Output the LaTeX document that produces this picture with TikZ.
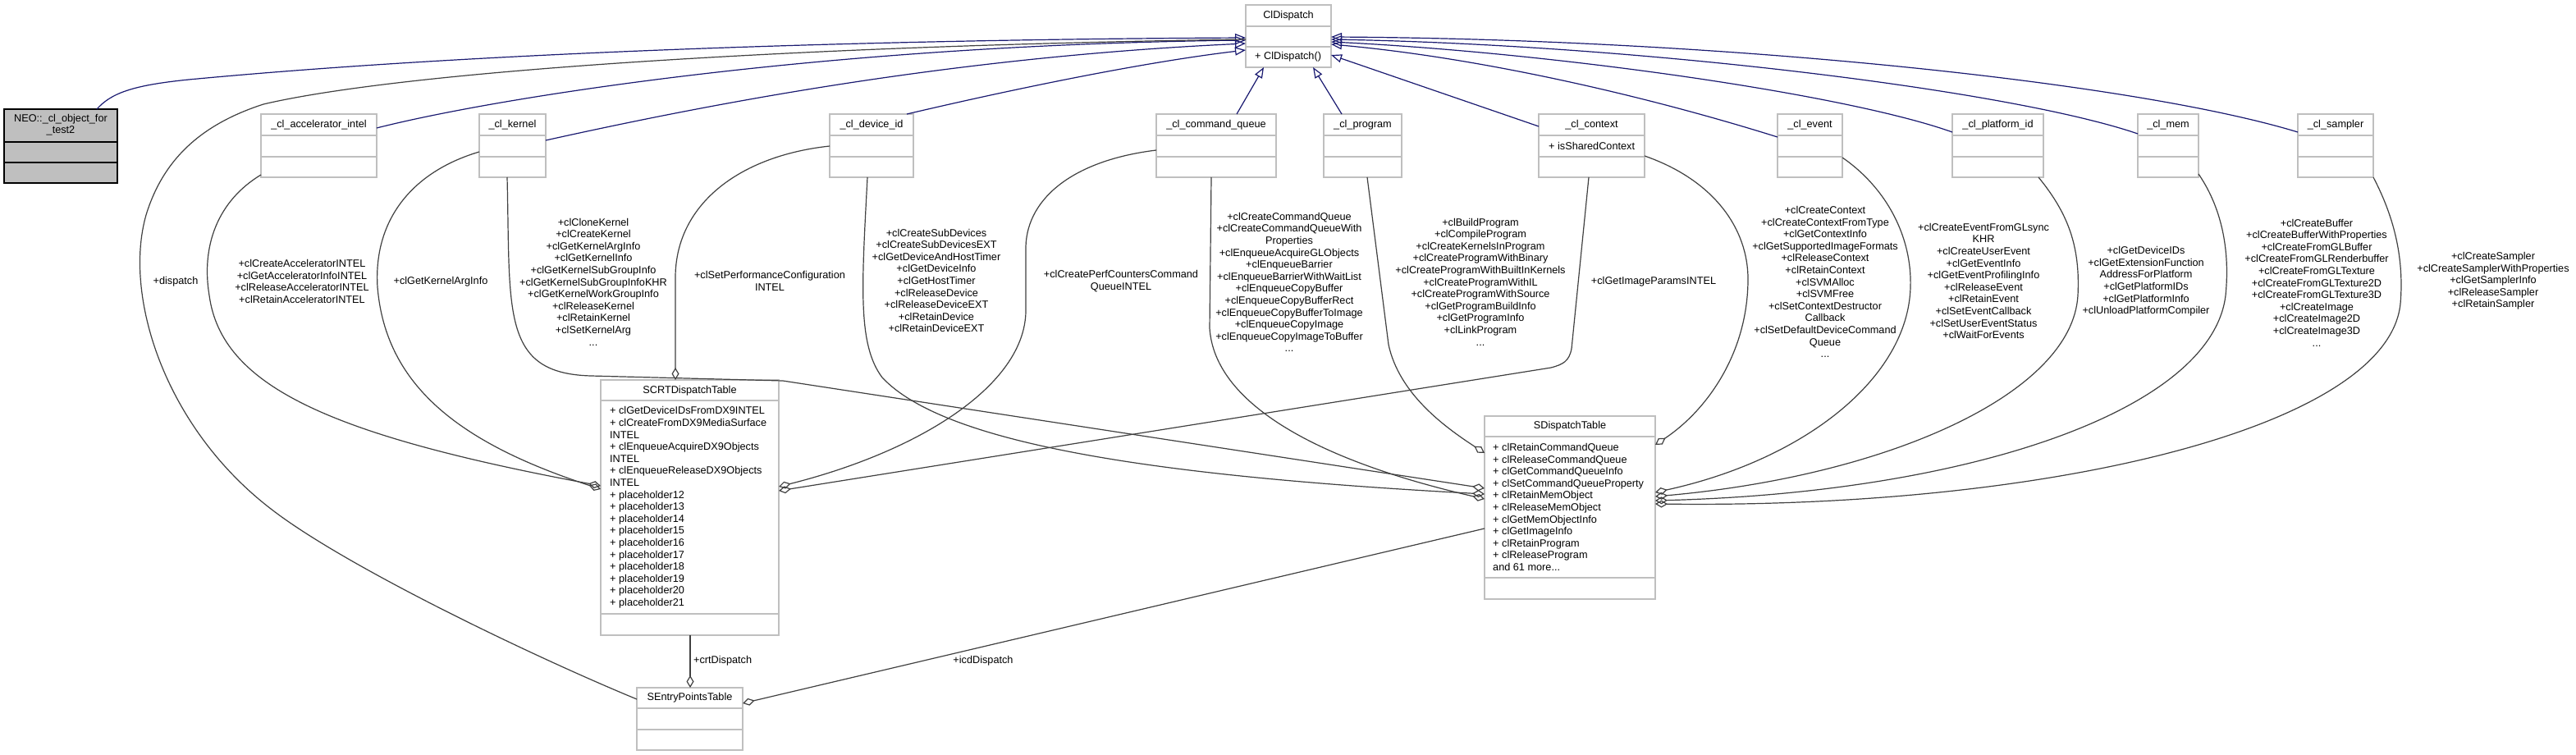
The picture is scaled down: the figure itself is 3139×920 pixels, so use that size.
\documentclass[tikz,border=0pt]{standalone}
\usepackage{fontspec}
\setmainfont{Liberation Sans}
\usetikzlibrary{arrows.meta,calc}
\definecolor{navyc}{HTML}{191970}
\definecolor{edgec}{HTML}{404040}
\definecolor{boxc}{HTML}{BFBFBF}
\definecolor{neofill}{HTML}{BFBFBF}
\newcommand\fs{\fontsize{12.7}{14.6}\selectfont}
% #1 name, #2 x, #3 y, #4 w, #5 h, #6 first line, #7 second line, #8 style
\newcommand\umlcls[8]{%
  \node[cls,#8,minimum width=#4pt,minimum height=#5pt] (#1) at (#2,#3) {};
  \draw[cmp,#8] ($(#1.north west)+(0,#6)$) -- ($(#1.north east)+(0,#6)$);
  \draw[cmp,#8] ($(#1.north west)+(0,#7)$) -- ($(#1.north east)+(0,#7)$);
}
\begin{document}
\begin{tikzpicture}[x=1pt,y=-1pt,
  cls/.style={draw=boxc,line width=1.4pt,fill=white,inner sep=0pt,outer sep=0pt,anchor=north west},
  cmp/.style={draw=boxc,line width=1.4pt},
  neostyle/.style={draw=black,fill=neofill},
  txt/.style={font=\fs,inner sep=0pt,align=center},
  ltxt/.style={font=\fs,inner sep=0pt,align=left,anchor=west},
  inh/.style={draw=navyc,line width=1.2pt,-{Triangle[open,length=13pt,width=10pt]}},
  use/.style={draw=edgec,line width=1.2pt,-{Diamond[open,length=15pt,width=9pt]}},
  plain/.style={draw=edgec,line width=1.2pt}]
\useasboundingbox (0,0) rectangle (3139,920);
\fill[white] (0,0) rectangle (3139,920);

% ---------- classes ----------
\umlcls{neo}{5}{133}{138}{90}{40}{65}{neostyle}
\umlcls{cld}{1518}{6}{104}{76}{26}{51}{}
\umlcls{acc}{318}{139}{141}{77}{26}{52}{}
\umlcls{ker}{584}{139}{81}{77}{26}{52}{}
\umlcls{dev}{1011}{139}{102}{77}{26}{52}{}
\umlcls{cq}{1409}{139}{146}{77}{26}{52}{}
\umlcls{prog}{1613}{139}{95}{77}{26}{52}{}
\umlcls{ctx}{1875}{139}{129}{77}{26}{52}{}
\umlcls{evt}{2166}{139}{79}{77}{26}{52}{}
\umlcls{plat}{2379}{139}{111}{77}{26}{52}{}
\umlcls{mem}{2605}{139}{74}{77}{26}{52}{}
\umlcls{samp}{2800}{139}{92}{77}{26}{52}{}
\umlcls{scrt}{732}{463}{217}{311}{25}{285}{}
\umlcls{sdt}{1809}{507}{208}{223}{25}{197}{}
\umlcls{sep}{776}{838}{129}{76}{25}{51}{}

% ---------- class texts ----------
\node[txt] (neot) at (74,152) {NEO::\_cl\_object\_for\\\_test2};
\node[txt] (cldt) at (1570,19) {ClDispatch};
\node[ltxt] (cldm) at (1529,69) {+ ClDispatch()};
\node[txt] (acct) at ($(acc.north)+(0,13)$) {\_cl\_accelerator\_intel};
\node[txt] (kert) at ($(ker.north)+(0,13)$) {\_cl\_kernel};
\node[txt] (devt) at ($(dev.north)+(0,13)$) {\_cl\_device\_id};
\node[txt] (cqt) at ($(cq.north)+(0,13)$) {\_cl\_command\_queue};
\node[txt] (progt) at ($(prog.north)+(0,13)$) {\_cl\_program};
\node[txt] (ctxt) at ($(ctx.north)+(0,13)$) {\_cl\_context};
\node[ltxt] (ctxa) at (1887,178) {+ isSharedContext};
\node[txt] (evtt) at ($(evt.north)+(0,13)$) {\_cl\_event};
\node[txt] (platt) at ($(plat.north)+(0,13)$) {\_cl\_platform\_id};
\node[txt] (memt) at ($(mem.north)+(0,13)$) {\_cl\_mem};
\node[txt] (sampt) at ($(samp.north)+(0,13)$) {\_cl\_sampler};
\node[txt] (scrtt) at ($(scrt.north)+(0,13)$) {SCRTDispatchTable};
\node[ltxt] (scrta) at (743,618.5) {+ clGetDeviceIDsFromDX9INTEL\\+ clCreateFromDX9MediaSurface\\INTEL\\+ clEnqueueAcquireDX9Objects\\INTEL\\+ clEnqueueReleaseDX9Objects\\INTEL\\+ placeholder12\\+ placeholder13\\+ placeholder14\\+ placeholder15\\+ placeholder16\\+ placeholder17\\+ placeholder18\\+ placeholder19\\+ placeholder20\\+ placeholder21};
\node[txt] (sdtt) at ($(sdt.north)+(0,12.5)$) {SDispatchTable};
\node[ltxt] (sdta) at (1819,618) {+ clRetainCommandQueue\\+ clReleaseCommandQueue\\+ clGetCommandQueueInfo\\+ clSetCommandQueueProperty\\+ clRetainMemObject\\+ clReleaseMemObject\\+ clGetMemObjectInfo\\+ clGetImageInfo\\+ clRetainProgram\\+ clReleaseProgram\\and 61 more...};
\node[txt] (sept) at ($(sep.north)+(0,12.5)$) {SEntryPointsTable};

% ---------- inheritance ----------
\draw[inh] ($(neo.north west)+(113,0)$) .. controls (135,114) and (160,104) .. (230,97)
   .. controls (600,62) and (1100,48) .. ($(cld.north west)+(0,40)$);
\draw[inh] ($(acc.north east)+(0,17)$) .. controls (600,120) and (1000,55) .. ($(cld.north west)+(0,43)$);
\draw[inh] ($(ker.north east)+(0,32)$) .. controls (850,130) and (1150,70) .. ($(cld.north west)+(0,47)$);
\draw[inh] ($(dev.north east)+(-8,0)$) .. controls (1250,105) and (1400,75) .. ($(cld.north west)+(0,55)$);
\draw[inh] ($(cq.north west)+(98,0)$) -- ($(cld.south west)+(22,0)$);
\draw[inh] ($(prog.north west)+(22,0)$) -- ($(cld.south west)+(82,0)$);
\draw[inh] ($(ctx.north west)+(0,15)$) -- ($(cld.north east)+(0,61)$);
\draw[inh] ($(evt.north west)+(0,28)$) .. controls (2000,115) and (1800,70) .. ($(cld.north east)+(0,48)$);
\draw[inh] ($(plat.north west)+(0,22)$) .. controls (2250,115) and (1900,65) .. ($(cld.north east)+(0,45)$);
\draw[inh] ($(mem.north west)+(0,24)$) .. controls (2450,110) and (2000,55) .. ($(cld.north east)+(0,42)$);
\draw[inh] ($(samp.north west)+(0,22)$) .. controls (2600,100) and (2100,48) .. ($(cld.north east)+(0,39)$);

% ---------- usage / aggregation ----------
\draw[plain] ($(cld.north west)+(0,42)$) .. controls (1000,55) and (500,85) .. (321,127)
   .. controls (250,150) and (200,190) .. (178,262)
   .. controls (150,360) and (200,520) .. (330,620)
   .. controls (420,690) and (650,800) .. ($(sep.north west)+(0,14)$);
\draw[use] ($(acc.north west)+(0,74)$) .. controls (265,245) and (245,300) .. (255,360)
   .. controls (270,470) and (400,530) .. ($(scrt.north west)+(0,129)$);
\draw[use] ($(ker.north west)+(0,46)$) .. controls (500,210) and (455,270) .. (460,350)
   .. controls (470,470) and (560,540) .. ($(scrt.north west)+(0,133)$);
\draw[use] ($(ker.south west)+(34,0)$) .. controls (622,380) and (610,455) .. (720,458)
   -- (954,464) -- ($(sdt.north west)+(0,88)$);
\draw[use] ($(dev.north west)+(0,39)$) .. controls (900,190) and (822,250) .. (823,340)
   -- ($(scrt.north west)+(91,0)$);
\draw[use] ($(dev.south west)+(46,0)$) .. controls (1050,350) and (1045,420) .. (1075,460)
   .. controls (1150,540) and (1400,580) .. ($(sdt.north west)+(0,95)$);
\draw[use] ($(cq.north west)+(0,44)$) .. controls (1310,195) and (1252,240) .. (1250,300)
   -- (1250,380) .. controls (1248,470) and (1120,550) .. ($(scrt.north east)+(0,130)$);
\draw[use] ($(ctx.south west)+(61,0)$) -- (1915,425) .. controls (1912,440) and (1905,444) .. (1890,448)
   -- ($(scrt.north east)+(0,135)$);
\draw[use] ($(cq.south west)+(67,0)$) -- (1474,400) .. controls (1480,490) and (1600,560) .. ($(sdt.north west)+(0,101)$);
\draw[use] ($(prog.south west)+(53,0)$) -- (1692,420) .. controls (1705,480) and (1760,520) .. ($(sdt.north west)+(0,45)$);
\draw[use] ($(ctx.north east)+(0,51)$) .. controls (2090,220) and (2130,280) .. (2130,340)
   .. controls (2130,430) and (2080,500) .. ($(sdt.north east)+(0,35)$);
\draw[use] ($(evt.north east)+(0,53)$) .. controls (2300,230) and (2330,290) .. (2328,350)
   .. controls (2325,460) and (2200,560) .. ($(sdt.north east)+(0,93)$);
\draw[use] ($(plat.south east)+(-6,0)$) .. controls (2520,260) and (2535,300) .. (2532,360)
   .. controls (2525,480) and (2300,580) .. ($(sdt.north east)+(0,98)$);
\draw[use] ($(mem.north east)+(0,73)$) .. controls (2705,250) and (2718,300) .. (2712,360)
   .. controls (2695,500) and (2400,600) .. ($(sdt.north east)+(0,103)$);
\draw[use] ($(samp.south east)$) .. controls (2915,260) and (2930,310) .. (2925,370)
   .. controls (2910,520) and (2500,620) .. ($(sdt.north east)+(0,107)$);
\draw[use] ($(scrt.south west)+(109,0)$) -- ($(sep.north west)+(65,0)$);
\draw[use] ($(sdt.north west)+(0,137)$) -- ($(sep.north east)+(0,19)$);

% ---------- edge labels ----------
\node[txt] (l1) at (214,343) {+dispatch};
\node[txt] (l2) at (368,343) {+clCreateAcceleratorINTEL\\+clGetAcceleratorInfoINTEL\\+clReleaseAcceleratorINTEL\\+clRetainAcceleratorINTEL};
\node[txt] (l3) at (537,343) {+clGetKernelArgInfo};
\node[txt] (l4) at (723,343.5) {+clCloneKernel\\+clCreateKernel\\+clGetKernelArgInfo\\+clGetKernelInfo\\+clGetKernelSubGroupInfo\\+clGetKernelSubGroupInfoKHR\\+clGetKernelWorkGroupInfo\\+clReleaseKernel\\+clRetainKernel\\+clSetKernelArg\\...};
\node[txt] (l5) at (938,342.5) {+clSetPerformanceConfiguration\\INTEL};
\node[txt] (l6) at (1141,342) {+clCreateSubDevices\\+clCreateSubDevicesEXT\\+clGetDeviceAndHostTimer\\+clGetDeviceInfo\\+clGetHostTimer\\+clReleaseDevice\\+clReleaseDeviceEXT\\+clRetainDevice\\+clRetainDeviceEXT};
\node[txt] (l7) at (1366,342.5) {+clCreatePerfCountersCommand\\QueueINTEL};
\node[txt] (l8) at (1571,344) {+clCreateCommandQueue\\+clCreateCommandQueueWith\\Properties\\+clEnqueueAcquireGLObjects\\+clEnqueueBarrier\\+clEnqueueBarrierWithWaitList\\+clEnqueueCopyBuffer\\+clEnqueueCopyBufferRect\\+clEnqueueCopyBufferToImage\\+clEnqueueCopyImage\\+clEnqueueCopyImageToBuffer\\...};
\node[txt] (l9) at (1804,343.5) {+clBuildProgram\\+clCompileProgram\\+clCreateKernelsInProgram\\+clCreateProgramWithBinary\\+clCreateProgramWithBuiltInKernels\\+clCreateProgramWithIL\\+clCreateProgramWithSource\\+clGetProgramBuildInfo\\+clGetProgramInfo\\+clLinkProgram\\...};
\node[txt] (l10) at (2015,343) {+clGetImageParamsINTEL};
\node[txt] (l11) at (2224,343.5) {+clCreateContext\\+clCreateContextFromType\\+clGetContextInfo\\+clGetSupportedImageFormats\\+clReleaseContext\\+clRetainContext\\+clSVMAlloc\\+clSVMFree\\+clSetContextDestructor\\Callback\\+clSetDefaultDeviceCommand\\Queue\\...};
\node[txt] (l12) at (2417,342.5) {+clCreateEventFromGLsync\\KHR\\+clCreateUserEvent\\+clGetEventInfo\\+clGetEventProfilingInfo\\+clReleaseEvent\\+clRetainEvent\\+clSetEventCallback\\+clSetUserEventStatus\\+clWaitForEvents};
\node[txt] (l13) at (2615,343) {+clGetDeviceIDs\\+clGetExtensionFunction\\AddressForPlatform\\+clGetPlatformIDs\\+clGetPlatformInfo\\+clUnloadPlatformCompiler};
\node[txt] (l14) at (2823,344.5) {+clCreateBuffer\\+clCreateBufferWithProperties\\+clCreateFromGLBuffer\\+clCreateFromGLRenderbuffer\\+clCreateFromGLTexture\\+clCreateFromGLTexture2D\\+clCreateFromGLTexture3D\\+clCreateImage\\+clCreateImage2D\\+clCreateImage3D\\...};
\node[txt] (l15) at (3038,342.5) {+clCreateSampler\\+clCreateSamplerWithProperties\\+clGetSamplerInfo\\+clReleaseSampler\\+clRetainSampler};
\node[ltxt] (l16) at (845,805) {+crtDispatch};
\node[txt] (l17) at (1198,805) {+icdDispatch};
\end{tikzpicture}
\end{document}
